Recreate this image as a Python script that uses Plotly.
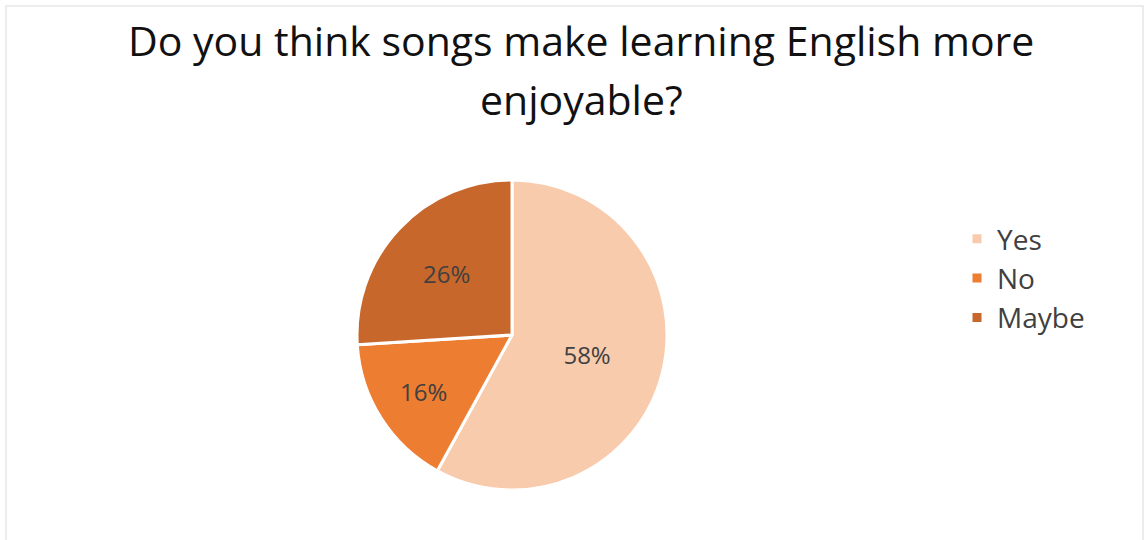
import plotly.graph_objects as go

# Survey responses
answers = ["Yes", "No", "Maybe"]
shares = [58, 16, 26]
slice_colors = ["#F8CBAD", "#ED7D31", "#C8672B"]
title_lines = ["Do you think songs make learning English more", "enjoyable?"]

W, H = 1148, 540

fig = go.Figure()
fig.add_trace(go.Pie(
    labels=answers,
    values=shares,
    sort=False,
    direction="clockwise",
    rotation=0,
    marker=dict(colors=slice_colors, line=dict(color="white", width=3)),
    texttemplate="%{value}%",
    textposition="inside",
    insidetextorientation="horizontal",
    textfont=dict(family="Open Sans", size=24, color="#404040"),
    domain=dict(x=[357 / W, 667 / W], y=[(H - 490) / H, (H - 180) / H]),
    hoverinfo="label+percent",
))

# Two-line chart title
title_centers = [40, 99]
annotations = [
    dict(text=line, x=581 / W, y=1 - yc / H, xref="paper", yref="paper",
         xanchor="center", yanchor="middle", showarrow=False,
         font=dict(family="Open Sans", size=41, color="#111111"))
    for line, yc in zip(title_lines, title_centers)
]

fig.update_layout(
    width=W, height=H,
    margin=dict(l=0, r=0, t=0, b=0),
    paper_bgcolor="white",
    plot_bgcolor="white",
    annotations=annotations,
    legend=dict(
        x=957 / W, xanchor="left",
        y=1 - 214 / H, yanchor="top",
        font=dict(family="Open Sans", size=28, color="#404040"),
        itemwidth=30,
        bgcolor="rgba(0,0,0,0)",
    ),
    shapes=[dict(
        type="rect", xref="paper", yref="paper",
        x0=6 / W, x1=1143 / W, y0=-0.05, y1=1 - 6 / H,
        line=dict(color="#E6E6E6", width=1.5),
        fillcolor="rgba(0,0,0,0)",
        layer="below",
    )],
)

fig.write_html("out.html")
